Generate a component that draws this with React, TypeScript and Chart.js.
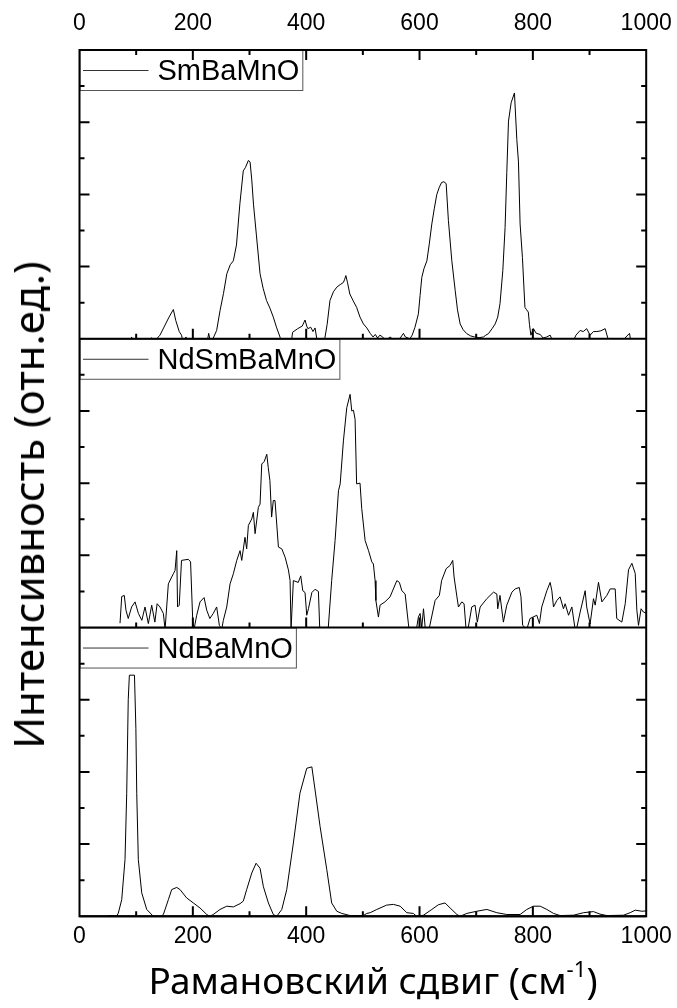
import React, { useEffect, useRef } from "react";
import { Chart, registerables } from "chart.js";

Chart.register(...registerables);

// ---- data (x = Raman shift, cm^-1 ; y = intensity in arbitrary units, 0..8 per panel) ----
const panelLabels = ["SmBaMnO", "NdSmBaMnO", "NdBaMnO"];
const xTickValues = [0, 200, 400, 600, 800, 1000];
const xMinorTickValues = [100, 200, 300, 400, 500, 600, 700, 800, 900];
const yTickValues = [1, 2, 3, 4, 5, 6, 7];

const smBaMnO: [number, number][] = [
  [50, -0.3], [88, -0.2], [92, 0.05], [95, -0.2], [125, -0.2], [127, 0.03], [132, -0.1],
  [139, 0.05], [142, 0.1], [150, 0.35], [158, 0.6], [165.6, 0.81], [170, 0.5], [176, 0.2],
  [180, 0.1], [183, -0.1], [188, 0.05], [192, -0.2], [225, -0.1], [228, 0.15], [231, -0.1],
  [236, 0.02], [242, 0.23], [248, 0.78], [254, 1.25], [260, 1.8], [266, 2.05], [271.5, 2.16],
  [277, 2.6], [283, 3.74], [289, 4.65], [293, 4.75], [298, 4.94], [301, 4.9], [304, 4.4],
  [307, 3.73], [312, 2.9], [318.6, 1.8], [324, 1.4], [330, 1.06], [336, 0.85], [342, 0.6],
  [348, 0.3], [354, 0.04], [358, -0.3], [372, -0.3], [374.5, 0.0], [376, 0.18], [385, 0.28],
  [393, 0.35], [398, 0.52], [401, 0.35], [403, 0.28], [408, 0.32], [412, 0.2], [415.7, 0.3],
  [418.7, 0.0], [422, -0.3], [430, -0.2], [433, 0.02], [437, 0.4], [442, 1.06], [448, 1.3],
  [454, 1.43], [460, 1.5], [465.7, 1.56], [468, 1.65], [470, 1.75], [473, 1.55], [477, 1.24],
  [483, 1.05], [489, 0.87], [495, 0.6], [501, 0.41], [507, 0.3], [513, 0.15], [518, 0.05],
  [522, 0.12], [526, 0.02], [530, 0.1], [535, 0.05], [540, -0.05], [548, 0.05], [556, -0.05],
  [566, 0.02], [571.6, 0.15], [575, 0.05], [583, 0.0], [587, 0.1], [592, 0.32], [598, 0.69],
  [601, 1.2], [604, 1.7], [608, 1.95], [613, 2.16], [617, 2.6], [621.7, 3.18], [626, 3.6],
  [630.5, 4.0], [635, 4.2], [639, 4.33], [643, 4.35], [647, 4.3], [651, 3.27], [657, 2.16],
  [663, 1.33], [667, 0.8], [671.7, 0.41], [677, 0.25], [683.5, 0.14], [690, 0.08], [697, 0.05],
  [705, 0.03], [712.8, 0.05], [717, 0.1], [721.6, 0.14], [728, 0.28], [733.5, 0.41], [738, 0.6],
  [742, 0.97], [747, 1.89], [751, 3.08], [754, 4.6], [757, 6.03], [761.7, 6.54], [767.5, 6.81],
  [771.7, 5.52], [774.6, 4.9], [777.5, 3.18], [781.6, 2.25], [786, 0.87], [789, 0.8], [792, 0.74],
  [794, 0.4], [796.5, 0.1], [801, 0.28], [806, 0.15], [813, 0.12], [818, 0.02], [824.7, 0.05],
  [830.5, 0.1], [836, -0.1], [850, -0.3], [871.7, -0.05], [876, 0.1], [883.5, 0.23], [889, 0.2],
  [895, 0.28], [901, 0.1], [907, 0.2], [913, 0.2], [920, 0.22], [927.6, 0.28], [933.5, -0.05],
  [945, -0.3], [960, -0.02], [970.6, 0.15], [973, -0.1], [985, -0.3], [1000, -0.3],
];

const ndSmBaMnO: [number, number][] = [
  [71.5, 0.12], [74.5, 0.86], [79, 0.89], [82, 0.48], [86, 0.25], [92, 0.57], [98, 0.71],
  [104, 0.39], [110, 0.2], [115.6, 0.57], [121.5, 0.11], [127.4, 0.62], [133, 0.15], [137, 0.66],
  [142, 0.57], [148, 0.39], [151, -0.05], [156.8, 1.21], [162.7, 1.4], [165.6, 1.49], [168.6, 1.58],
  [171.6, 2.13], [173, 0.57], [176, 0.62], [180, 1.86], [192, 1.89], [196, 1.82], [199.8, 0.2],
  [201.5, -0.1], [206.8, 0.34], [212.7, 0.71], [219.8, 0.83], [224.5, 0.48], [230, 0.25],
  [236, 0.39], [242, 0.57], [246.8, 0.06], [251, -0.05], [253.8, 0.2], [259.8, 0.57], [265.7, 1.21],
  [271.5, 1.49], [277.5, 1.86], [283.3, 2.13], [286.3, 1.86], [292, 2.5], [295, 2.18], [298, 2.83],
  [304, 3.01], [306.8, 3.19], [309.8, 2.6], [315.6, 3.33], [318.6, 3.42], [321.6, 4.53],
  [326, 4.6], [330.5, 4.8], [333, 4.44], [336, 4.07], [339, 3.06], [342, 3.52], [345, 3.52],
  [351, 2.23], [357, 2.18], [362.8, 1.95], [368.6, 1.6], [371.6, 1.3], [373.3, -0.05], [377.4, 1.3],
  [386, 1.25], [390.4, 1.43], [394, 1.02], [398, 0.97], [401, 0.34], [404, 0.52], [410, 0.97],
  [415.7, 1.06], [421.6, 1.0], [424.5, -0.3], [435, -0.3], [439, 0.0], [445, 1.3], [451, 2.41],
  [457, 3.79], [460, 3.98], [465.7, 5.17], [471.6, 6.09], [477.5, 6.46], [480.4, 6.0], [483.4, 6.02],
  [486.3, 5.77], [489, 3.98], [495, 4.0], [498, 3.3], [504, 2.41], [510, 2.13], [515.8, 1.82],
  [518.6, 1.76], [521.6, 1.3], [523, 0.75], [527.5, 0.29], [530.4, 0.62], [539, 0.71], [548, 0.85],
  [560, 1.3], [564.5, 1.25], [568.8, 1.02], [574.6, 0.93], [580.4, 0.1], [583.3, -0.3], [592, -0.3],
  [595, 0.0], [598, 0.29], [601, 0.39], [604, 0.0], [607, 0.52], [610, 0.0], [617.5, 0.0],
  [627.5, 0.75], [635, 0.89], [639, 1.3], [647, 1.63], [654, 1.72], [658.6, 1.86], [661, 1.4],
  [666, 0.85], [668.7, 0.57], [674.6, 0.71], [678.6, 0.66], [682.4, -0.1], [686, 0.0],
  [692.2, 0.57], [698, 0.62], [702, 0.15], [707, 0.57], [718.8, 0.8], [730.5, 0.98], [736.4, 0.93],
  [738, 0.52], [742, 0.89], [748, 0.15], [754, 0.62], [763, 0.98], [768.8, 1.07], [776, 1.11],
  [779, 0.85], [782, 0.06], [789.3, -0.05], [795, 0.25], [807, 0.34], [811.6, 0.11], [815.7, 0.57],
  [824.7, 1.02], [830.5, 1.25], [833.5, 1.02], [836.4, 0.57], [842.3, 0.75], [848, 0.85],
  [854, 0.52], [857, 0.66], [863, 0.34], [868.8, 0.57], [874.6, -0.05], [877.6, 0.0], [883.5, 0.43],
  [892.3, 1.02], [895, 0.57], [901, 0.1], [907, 0.8], [910, 0.62], [915.8, 1.25], [921.8, 0.71],
  [930.6, 0.89], [936.4, 1.07], [945.3, 1.07], [948, 0.25], [957, 0.15], [963, 0.66], [968.8, 1.6],
  [974.7, 1.78], [980.6, 1.5], [983.5, 0.48], [986.4, 0.06], [991, 0.52], [995, 0.43], [1000, 0.4],
];

const ndBaMnO: [number, number][] = [
  [50, 0.02], [65.6, 0.0], [68.5, 0.09], [74.5, 0.46], [80.3, 1.57], [83.3, 3.41], [86, 6.0],
  [88, 6.68], [97, 6.68], [99.5, 5.2], [101, 3.41], [103.8, 1.57], [109.8, 0.65], [118.6, 0.19],
  [130.3, 0.0], [140, -0.05], [148, 0.05], [156.8, 0.46], [162.7, 0.74], [171.6, 0.8], [177.4, 0.74],
  [189, 0.51], [200.9, 0.37], [212.7, 0.23], [224.5, 0.05], [230, 0.0], [236, 0.05], [248, 0.19],
  [259.8, 0.28], [271.5, 0.26], [283.3, 0.35], [289, 0.42], [295, 0.74], [304, 1.2], [311.6, 1.47],
  [318.6, 1.33], [324.5, 0.82], [333.3, 0.37], [342, 0.05], [348, 0.0], [357, 0.19], [365.7, 0.74],
  [377.4, 2.03], [389, 3.41], [401, 4.1], [410, 4.14], [415.7, 3.5], [424.5, 2.49], [436.4, 1.29],
  [445, 0.37], [454, 0.14], [462.8, 0.08], [477.5, 0.02], [501, 0.02], [507, 0.08], [513, 0.1],
  [524.6, 0.19], [542, 0.31], [554, 0.33], [565.8, 0.28], [577.6, 0.1], [589, 0.08], [595, 0.0],
  [607, 0.03], [621.7, 0.19], [633.3, 0.32], [645, 0.37], [654, 0.23], [666, 0.05], [671.7, 0.0],
  [683.5, 0.08], [701, 0.14], [718.8, 0.19], [736.4, 0.1], [754, 0.05], [777.5, 0.05], [789.3, 0.19],
  [801, 0.28], [813, 0.28], [824.7, 0.19], [836.4, 0.08], [848, 0.02], [871.7, 0.03], [889.4, 0.1],
  [907, 0.13], [918.5, 0.06], [930.6, 0.02], [960, 0.03], [971.7, 0.1], [980.6, 0.17], [992.4, 0.14],
  [1000, 0.15],
];

const panelSeries = [smBaMnO, ndSmBaMnO, ndBaMnO];
const panelAxisIds = ["yTop", "yMid", "yBot"];

const TICK_FONT = "'Liberation Sans', Arial, sans-serif";
const TITLE_FONT = "'Noto Sans', 'Open Sans', sans-serif";

const panelsPlugin = {
  id: "panelsDecor",
  afterDatasetsDraw(chart: any) {
    const ctx = chart.ctx as CanvasRenderingContext2D;
    const xs = chart.scales.x;
    const { left, right, top, bottom } = chart.chartArea;
    ctx.save();

    // legend boxes
    panelAxisIds.forEach((id, i) => {
      const ys = chart.scales[id];
      ctx.font = `29px ${TICK_FONT}`;
      const label = chart.data.datasets[i].label as string;
      const tw = ctx.measureText(label).width;
      const bx = left;
      const by = ys.top;
      const bw = 78 + tw + 4;
      const bh = 40;
      ctx.fillStyle = "#fff";
      ctx.fillRect(bx, by, bw, bh);
      ctx.strokeStyle = "#555";
      ctx.lineWidth = 1;
      ctx.strokeRect(bx + 0.5, by + 0.5, bw - 1, bh);
      ctx.strokeStyle = "#333";
      ctx.beginPath();
      ctx.moveTo(bx + 3.5, by + bh / 2 + 0.5);
      ctx.lineTo(bx + 69, by + bh / 2 + 0.5);
      ctx.stroke();
      ctx.fillStyle = "#000";
      ctx.textBaseline = "alphabetic";
      ctx.textAlign = "left";
      ctx.fillText(label, bx + 78, by + bh / 2 + 10.4);
    });

    // ticks
    ctx.strokeStyle = "#000";
    ctx.lineWidth = 2;
    ctx.beginPath();
    panelAxisIds.forEach((id) => {
      const ys = chart.scales[id];
      yTickValues.forEach((v) => {
        const p = ys.getPixelForValue(v);
        const len = v % 2 === 0 ? 10 : 5;
        ctx.moveTo(left, p);
        ctx.lineTo(left + len, p);
        ctx.moveTo(right, p);
        ctx.lineTo(right - len, p);
      });
      xMinorTickValues.forEach((v) => {
        const p = xs.getPixelForValue(v);
        const len = v % 200 === 0 ? 10 : 5;
        ctx.moveTo(p, ys.bottom);
        ctx.lineTo(p, ys.bottom - len);
      });
    });
    xMinorTickValues.forEach((v) => {
      const p = xs.getPixelForValue(v);
      const len = v % 200 === 0 ? 10 : 5;
      ctx.moveTo(p, top);
      ctx.lineTo(p, top + len);
    });
    ctx.stroke();

    // frame and panel separators
    ctx.strokeRect(left, top, right - left, bottom - top);
    ctx.beginPath();
    panelAxisIds.forEach((id) => {
      const ys = chart.scales[id];
      ctx.moveTo(left, ys.bottom);
      ctx.lineTo(right, ys.bottom);
    });
    ctx.stroke();
    ctx.restore();
  },
};

export default function App() {
  const ref = useRef<HTMLCanvasElement>(null);

  useEffect(() => {
    if (!ref.current) return;
    const datasets = panelSeries.map((s, i) => ({
      label: panelLabels[i],
      data: s.map(([x, y]) => ({ x, y })),
      xAxisID: "x",
      yAxisID: panelAxisIds[i],
      borderColor: "#000",
      borderWidth: 1,
      pointRadius: 0,
      tension: 0,
      fill: false,
    }));

    const yScale = () => ({
      type: "linear",
      position: "right",
      stack: "panels",
      stackWeight: 1,
      min: 0,
      max: 8,
      ticks: { display: false },
      grid: { display: false, drawTicks: false },
      border: { display: false },
      afterFit: (s: any) => {
        s.width = 0;
        s.paddingTop = 0;
        s.paddingBottom = 0;
      },
    });

    const xScale = (pos: string, h: number, pad: number) => ({
      type: "linear",
      position: pos,
      min: 0,
      max: 1000,
      afterBuildTicks: (s: any) => {
        s.ticks = xTickValues.map((v) => ({ value: v }));
      },
      ticks: {
        autoSkip: false,
        maxRotation: 0,
        padding: pad,
        color: "#000",
        font: { family: TICK_FONT, size: 23 },
        callback: (v: number) => String(v),
      },
      grid: { display: false, drawTicks: false },
      border: { display: false },
      afterFit: (s: any) => {
        s.height = h;
        s.paddingLeft = 0;
        s.paddingRight = 0;
      },
    });

    const chart = new Chart(ref.current, {
      type: "line",
      data: { datasets },
      options: {
        animation: false,
        responsive: false,
        layout: { padding: { left: 79.5, right: 30.8, top: 0, bottom: 0 } },
        plugins: { legend: { display: false }, tooltip: { enabled: false } },
        scales: {
          x: xScale("bottom", 91.7, 6.5),
          x2: xScale("top", 50, 12.2),
          yTop: yScale(),
          yMid: yScale(),
          yBot: yScale(),
        } as any,
      },
      plugins: [panelsPlugin],
    } as any);
    return () => chart.destroy();
  }, []);

  return (
    <div style={{ position: "fixed", left: 0, top: 0, width: 677, height: 1008, background: "#fff" }}>
      <canvas ref={ref} width={677} height={1008} style={{ position: "absolute", left: 0, top: 0 }} />
      <div
        style={{
          position: "absolute",
          left: 28,
          top: 505,
          transform: "translate(-50%, -50%) rotate(-90deg)",
          whiteSpace: "nowrap",
          fontFamily: TITLE_FONT,
          fontSize: 42,
          lineHeight: 1,
          color: "#000",
        }}
      >
        Интенсивность (отн.ед.)
      </div>
      <div
        style={{
          position: "absolute",
          left: 373,
          top: 958,
          transform: "translateX(-50%)",
          whiteSpace: "nowrap",
          fontFamily: TITLE_FONT,
          fontSize: 37,
          lineHeight: 1,
          color: "#000",
        }}
      >
        Рамановский сдвиг (см<sup style={{ fontSize: "0.6em", verticalAlign: "0.75em" }}>-1</sup>)
      </div>
    </div>
  );
}
